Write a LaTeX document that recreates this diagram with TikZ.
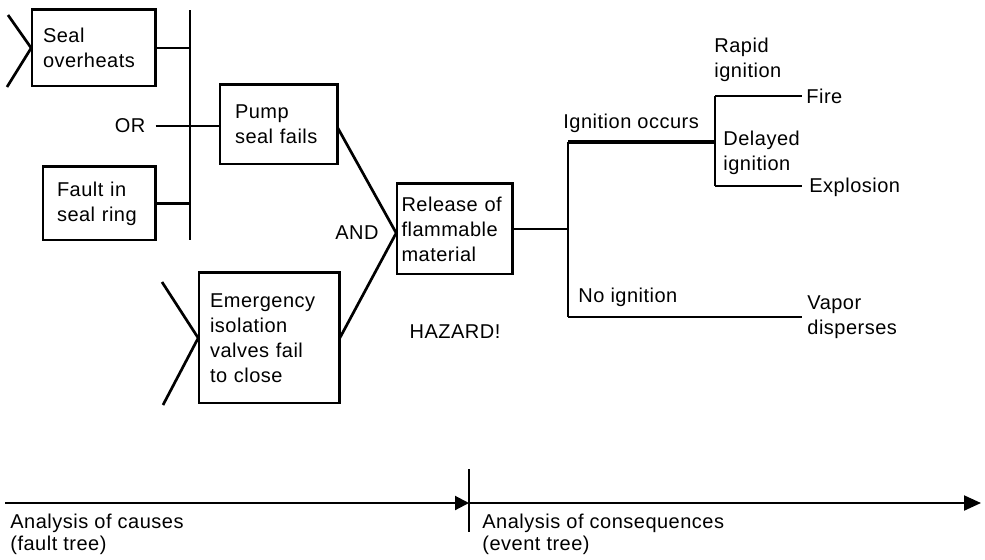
\documentclass[tikz,border=0pt]{standalone}
\usepackage{fontspec}
\setmainfont{Liberation Sans}[LetterSpace=2.5]
\usetikzlibrary{arrows.meta}
\begin{document}
\hyphenpenalty=10000 \exhyphenpenalty=10000
\begin{tikzpicture}[x=0.5pt,y=-0.5pt,
  font=\fontsize{10}{12.5}\selectfont,
  evt/.style={draw, line width=0.8pt, align=left, inner ysep=0pt, anchor=center},
  heavyedge/.style={line width=1.6pt},
  link/.style={line width=1.35pt},
  thinlink/.style={line width=0.85pt},
  lbl/.style={inner sep=0pt},
  axis/.style={line width=1.05pt}]
\useasboundingbox (0,0) rectangle (985,559);

% ---- fault tree: events ----
\node[evt, minimum width=61.5pt, minimum height=38pt, text width=50.5pt, inner xsep=5.5pt] (seal) at (93.5,48) {Seal\\overheats};
\node[evt, minimum width=56pt, minimum height=36.5pt, text width=42pt, inner xsep=7pt] (fault) at (99,203.5) {Fault in\\seal ring};
\node[evt, minimum width=58.5pt, minimum height=39.5pt, text width=43.5pt, inner xsep=7.5pt] (pump) at (278.5,124.5) {Pump\\seal fails};
\node[evt, minimum width=70pt, minimum height=65pt, text width=59pt, inner xsep=5.5pt] (emg) at (269,338) {Emergency\\isolation\\valves fail\\to close};
\node[evt, minimum width=57.5pt, minimum height=45pt, text width=53pt, inner xsep=2.25pt] (rel) at (454.5,229) {Release of\\flammable\\material};

% heavier top and right edges of the boxes
\foreach \b in {seal,fault,pump,emg,rel}
  \draw[heavyedge] (\b.north west) -- (\b.north east) -- (\b.south east);

% ---- gate labels ----
\node[lbl, inner xsep=5pt] (or) at (130,126) {OR};
\node[lbl] (and) at (357,233) {AND};
\node[lbl] (haz) at (455,332) {HAZARD!};

% OR gate
\coordinate (ot) at (190,10);
\coordinate (ob) at (190,240);
\draw[link] (ot) -- (ob);
\draw[link] (seal.east) -- (seal.east -| ot);
\draw[link] (fault.east) -- (fault.east -| ot);
\draw[link] (or.east) -- (or.east -| pump.west);

% AND gate
\draw[link] ([yshift=-1.75pt]pump.east) -- ([yshift=-2pt]rel.west) -- (emg.east);

% incoming chevrons
\coordinate (c1) at (8,15);
\coordinate (c2) at (7,87);
\draw[link] (c1) -- (seal.west) -- (c2);
\coordinate (c3) at (162,282);
\coordinate (c4) at (163,405);
\draw[link] (c3) -- (emg.west) -- (c4);

% ---- event tree ----
\node[lbl, anchor=west] (igo) at (563,123) {Ignition occurs};
\node[lbl, anchor=west] (noi) at (578,297) {No ignition};
\node[lbl, anchor=west, align=left] (rap) at (714,60) {Rapid\\ignition};
\node[lbl, anchor=west, align=left] (del) at (723,153) {Delayed\\ignition};
\node[lbl, anchor=west, inner xsep=2pt] (fire) at (802,96) {Fire};
\node[lbl, anchor=west, inner xsep=3.5pt] (expl) at (802,187) {Explosion};
\node[lbl, anchor=west, align=left, inner xsep=2.5pt] (vap) at (802,317) {Vapor\\disperses};

\coordinate (j1) at (568,142);
\coordinate (j2) at (568,317);
\coordinate (k1) at (715,96);
\coordinate (k2) at (715,186);
\draw[link] (rel.east) -- (rel.east -| j1);
\draw[thinlink] (j1) -- (j2);
\draw[line width=1.6pt] (j1) -- (j1 -| k1);
\draw[thinlink] (k1) -- (k2);
\draw[line width=1.05pt] (k1) -- (k1 -| fire.west);
\draw[line width=1.05pt] (k2) -- (k2 -| expl.west);
\draw[link] (j2) -- (j2 -| vap.west);

% ---- analysis axis ----
\coordinate (b0) at (5,503);
\coordinate (bm) at (469,503);
\coordinate (b1) at (981,503);
\coordinate (t0) at (469,469);
\coordinate (t1) at (469,532);
\draw[axis, -{Triangle[length=7pt,width=7pt]}] (b0) -- (bm);
\draw[axis, -{Triangle[length=8.5pt,width=7.5pt]}] (bm) -- (b1);
\draw[line width=1.2pt] (t0) -- (t1);
\node[lbl, anchor=north west, align=left, font=\fontsize{10}{11}\selectfont] (causes) at (10,514) {Analysis of causes\\(fault tree)};
\node[lbl, anchor=north west, align=left, font=\fontsize{10}{11}\selectfont] (conseq) at (482,514) {Analysis of consequences\\(event tree)};
\end{tikzpicture}
\end{document}
